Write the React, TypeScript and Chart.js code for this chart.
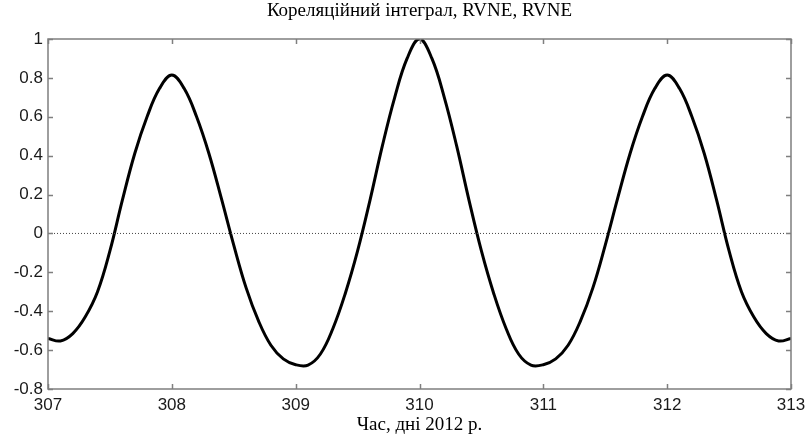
import React, { useEffect, useRef } from "react";
import { Chart, registerables } from "chart.js";

Chart.register(...registerables);

const days: number[] = [
  307.0, 307.1, 307.2, 307.3, 307.4, 307.5, 307.6, 307.7, 307.8, 307.9,
  308.0, 308.1, 308.2, 308.3, 308.4, 308.5, 308.6, 308.7, 308.8, 308.9,
  309.0, 309.1, 309.2, 309.3, 309.4, 309.5, 309.6, 309.7, 309.8, 309.9,
  310.0, 310.1, 310.2, 310.3, 310.4, 310.5, 310.6, 310.7, 310.8, 310.9,
  311.0, 311.1, 311.2, 311.3, 311.4, 311.5, 311.6, 311.7, 311.8, 311.9,
  312.0, 312.1, 312.2, 312.3, 312.4, 312.5, 312.6, 312.7, 312.8, 312.9,
  313.0,
];

const correlation: number[] = [
  -0.54, -0.553, -0.515, -0.43, -0.3, -0.09, 0.17, 0.41, 0.6, 0.745,
  0.815, 0.745, 0.6, 0.41, 0.18, -0.06, -0.28, -0.45, -0.575, -0.645,
  -0.675, -0.677, -0.62, -0.49, -0.31, -0.09, 0.17, 0.45, 0.7, 0.9,
  1.0, 0.9, 0.7, 0.45, 0.17, -0.09, -0.31, -0.49, -0.62, -0.677,
  -0.675, -0.645, -0.575, -0.45, -0.28, -0.06, 0.18, 0.41, 0.6, 0.745,
  0.815, 0.745, 0.6, 0.41, 0.17, -0.09, -0.3, -0.43, -0.515, -0.553,
  -0.54,
];

const zeroLineX: number[] = [307, 313];
const zeroLineY: number[] = [0, 0];

const titleText = "Кореляційний інтеграл, RVNE, RVNE";
const xAxisLabel = "Час, дні 2012 р.";
const xMin = 307;
const xMax = 313;
const yMin = -0.8;
const yMax = 1;

const serifFont = "'Liberation Serif', 'Times New Roman', serif";
const sansFont = "'Liberation Sans', Arial, sans-serif";

const boxTicksPlugin = {
  id: "boxTicks",
  afterDatasetsDraw(chart: any) {
    const { ctx, chartArea } = chart;
    const { left, right, top, bottom } = chartArea;
    const xs = chart.scales.x;
    const ys = chart.scales.y;
    const len = 5;
    ctx.save();
    ctx.strokeStyle = "#7f7f7f";
    ctx.lineWidth = 1.5;
    ctx.beginPath();
    xs.ticks.forEach((t: any) => {
      const px = Math.round(xs.getPixelForValue(t.value)) + 0.5;
      ctx.moveTo(px, bottom);
      ctx.lineTo(px, bottom - len);
      ctx.moveTo(px, top);
      ctx.lineTo(px, top + len);
    });
    ys.ticks.forEach((t: any) => {
      const py = Math.round(ys.getPixelForValue(t.value)) + 0.5;
      ctx.moveTo(left, py);
      ctx.lineTo(left + len, py);
      ctx.moveTo(right, py);
      ctx.lineTo(right - len, py);
    });
    ctx.stroke();
    ctx.beginPath();
    ctx.rect(left, top, right - left, bottom - top);
    ctx.stroke();
    // title centred on the plot area
    ctx.fillStyle = "#000000";
    ctx.font = `19px ${serifFont}`;
    ctx.textAlign = "center";
    ctx.textBaseline = "alphabetic";
    ctx.fillText(titleText, (left + right) / 2, 16);
    ctx.restore();
  },
};

export default function App() {
  const canvasRef = useRef<HTMLCanvasElement | null>(null);

  useEffect(() => {
    const canvas = canvasRef.current;
    if (!canvas) return;
    const mainPoints = days.map((d, i) => ({ x: d, y: correlation[i] }));
    const zeroPoints = zeroLineX.map((d, i) => ({ x: d, y: zeroLineY[i] }));
    const chart = new Chart(canvas, {
      type: "line",
      data: {
        datasets: [
          {
            data: zeroPoints,
            borderColor: "#444444",
            borderWidth: 1,
            borderDash: [1, 2],
            pointRadius: 0,
            tension: 0,
          },
          {
            data: mainPoints,
            borderColor: "#000000",
            borderWidth: 3,
            pointRadius: 0,
            tension: 0.4,
          },
        ],
      },
      plugins: [boxTicksPlugin],
      options: {
        responsive: false,
        animation: false,
        devicePixelRatio: 1,
        layout: { padding: { left: 0, right: 16, top: 39, bottom: 0 } },
        plugins: {
          legend: { display: false },
          tooltip: { enabled: false },
          title: { display: false },
        },
        scales: {
          x: {
            type: "linear",
            min: xMin,
            max: xMax,
            afterFit: (scale: any) => {
              scale.height = 50;
              scale.paddingLeft = 0;
              scale.paddingRight = 0;
            },
            ticks: {
              stepSize: 1,
              padding: 6,
              color: "#1a1a1a",
              font: { family: sansFont, size: 17 },
              callback: (v: any) => String(v),
            },
            grid: { display: false, drawTicks: false },
            border: { display: false },
            title: {
              display: true,
              text: xAxisLabel,
              color: "#000000",
              font: { family: serifFont, size: 19, lineHeight: 1 },
              padding: { top: 0, bottom: 4 },
            },
          },
          y: {
            type: "linear",
            min: yMin,
            max: yMax,
            afterFit: (scale: any) => {
              scale.width = 48;
              scale.paddingTop = 0;
              scale.paddingBottom = 0;
            },
            ticks: {
              stepSize: 0.2,
              padding: 5,
              color: "#1a1a1a",
              font: { family: sansFont, size: 17 },
              callback: (v: any) => String(Number(Number(v).toFixed(1))),
            },
            grid: { display: false, drawTicks: false },
            border: { display: false },
          },
        },
      },
    } as any);
    return () => {
      chart.destroy();
    };
  }, []);

  return (
    <div style={{ position: "absolute", left: 0, top: 0, width: 807, height: 439, background: "#ffffff" }}>
      <canvas ref={canvasRef} width={807} height={439} style={{ display: "block" }} />
    </div>
  );
}
